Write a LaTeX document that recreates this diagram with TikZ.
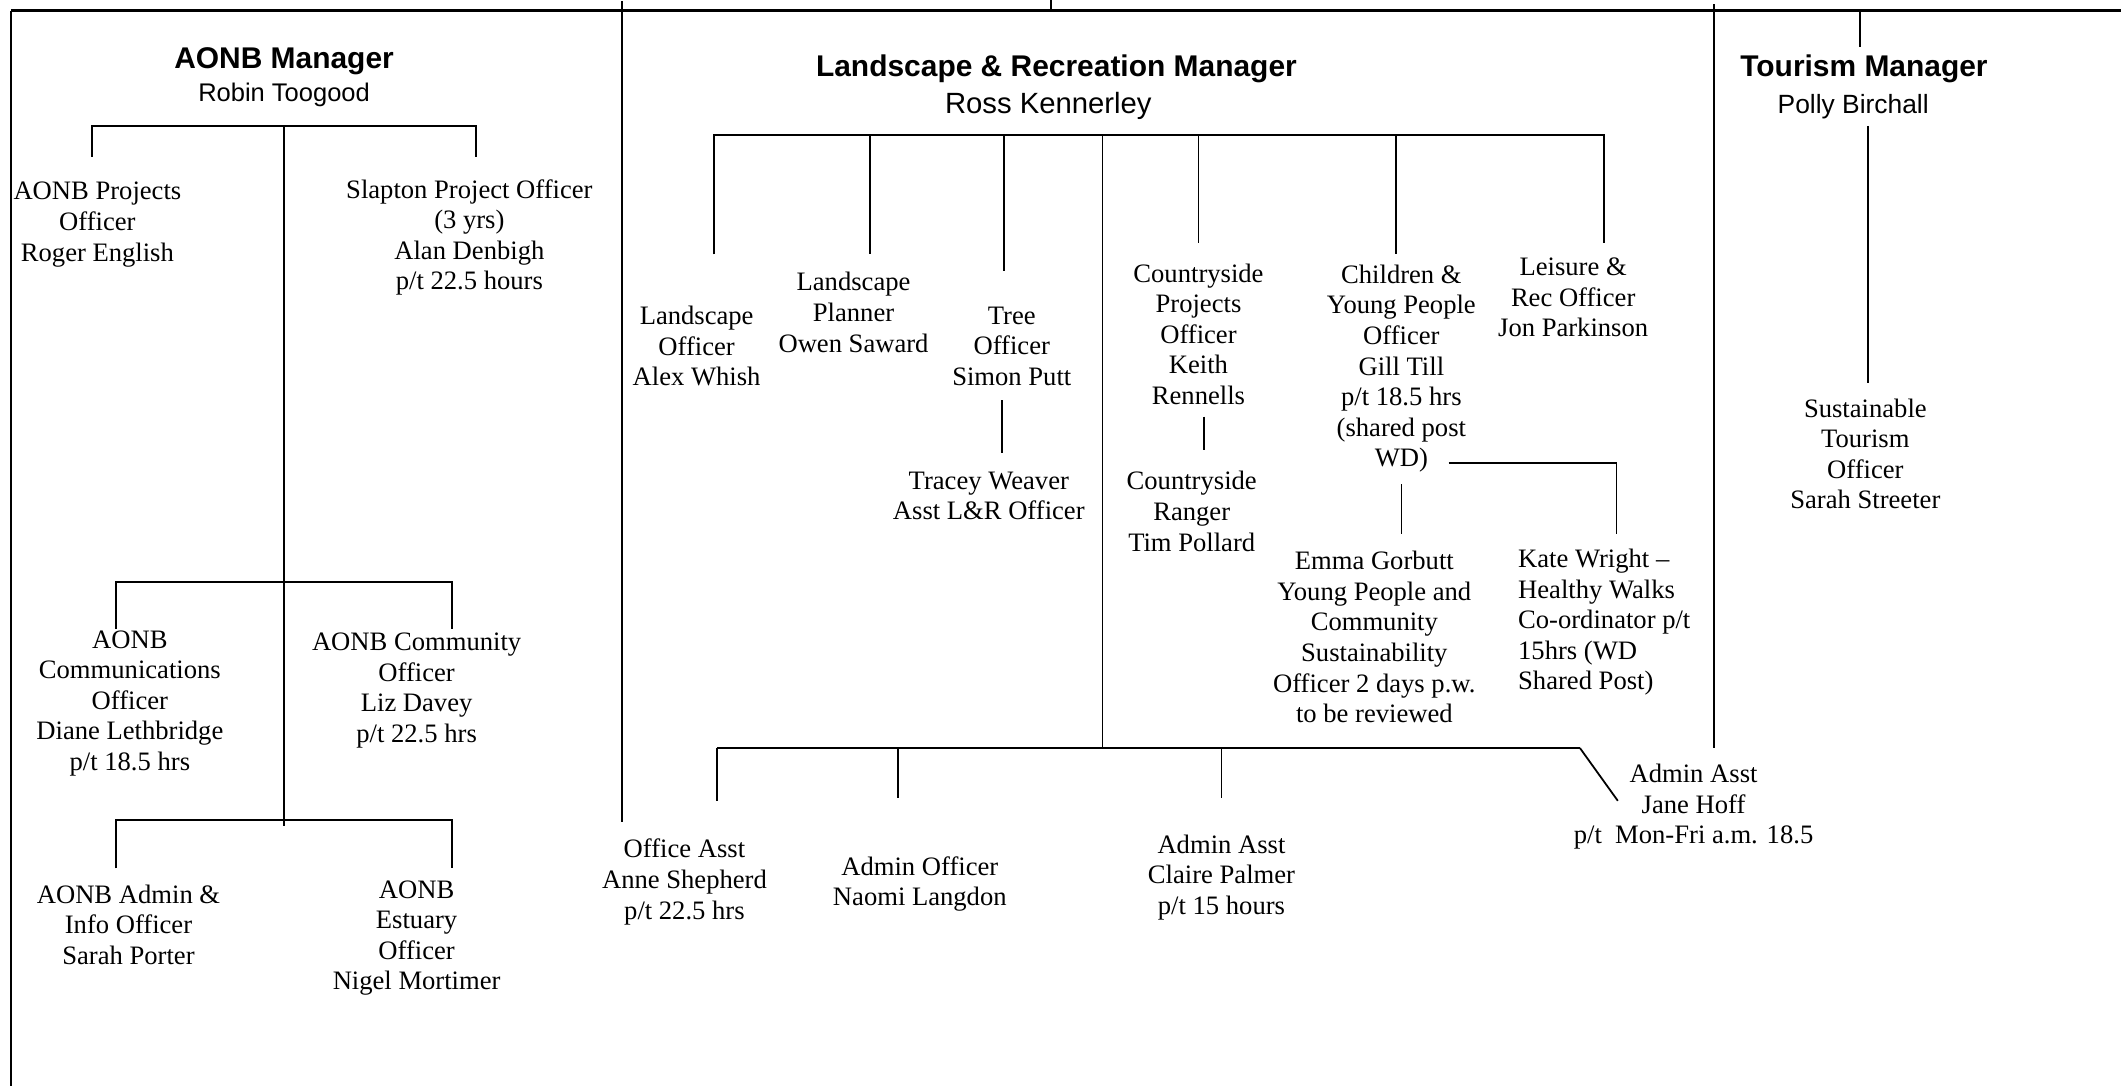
\documentclass[tikz,border=0pt]{standalone}
\usepackage{fontspec}
\setmainfont{Liberation Serif}
\newfontfamily\hsans{Liberation Sans}
\begin{document}
\begin{tikzpicture}[x=0.61pt,y=-0.61pt,
 txt/.style={align=center,inner sep=0pt,font=\fontsize{12}{13.8}\selectfont},
 head/.style={inner sep=0pt,font=\hsans\bfseries\fontsize{13.5}{15}\selectfont},
 nm/.style={inner sep=0pt,font=\hsans\fontsize{#1}{15}\selectfont},
 ln/.style={line width=0.8pt},
 bar/.style={line width=1.3pt}]
\useasboundingbox (0,0) rectangle (1568,803);

% ---------- frame ----------
\coordinate (tl) at (8,8);
\coordinate (tr) at (1568,8);
\coordinate (bl) at (8,803);
\coordinate (tt) at (777,0);
\coordinate (ttb) at (777,8);
\coordinate (v1t) at (460,1);
\coordinate (v1b) at (460,608);
\coordinate (v2t) at (1267,3);
\coordinate (v2b) at (1267,553);
\draw[bar] (tl) -- (tr);
\draw[ln] (tl) -- (bl);
\draw[ln] (tt) -- (ttb);
\draw[ln] (v1t) -- (v1b);
\draw[ln] (v2t) -- (v2b);

% ---------- AONB ----------
\node[head] (aonbmgr) at (210,45) {AONB Manager};
\node[nm=11.5] (aonbname) at (210,70) {Robin Toogood};
\node[txt] (proj) at (72,166) {AONB Projects\\Officer\\Roger English};
\node[txt] (slap) at (347,175.5) {Slapton Project Officer\\(3 yrs)\\Alan Denbigh\\p/t 22.5 hours};
\node[txt] (comms) at (96,520) {AONB\\Communications\\Officer\\Diane Lethbridge\\p/t 18.5 hrs};
\node[txt] (commun) at (308,510.5) {AONB Community\\Officer\\Liz Davey\\p/t 22.5 hrs};
\node[txt] (adminfo) at (95,683.5) {AONB Admin \&\\Info Officer\\Sarah Porter};
\node[txt] (estuary) at (308,693.5) {AONB\\Estuary\\Officer\\Nigel Mortimer};

\coordinate (a1l) at (68,93);  \coordinate (a1r) at (352,93);
\coordinate (a1lb) at (68,116); \coordinate (a1rb) at (352,116);
\coordinate (atr) at (210,93); \coordinate (atrb) at (210,611);
\coordinate (a2l) at (86,430); \coordinate (a2r) at (334,430);
\coordinate (a2lb) at (86,465); \coordinate (a2rb) at (334,465);
\coordinate (a3l) at (86,606); \coordinate (a3r) at (334,606);
\coordinate (a3lb) at (86,642); \coordinate (a3rb) at (334,642);
\draw[ln] (a1lb) -- (a1l) -- (a1r) -- (a1rb);
\draw[ln] (atr) -- (atrb);
\draw[ln] (a2lb) -- (a2l) -- (a2r) -- (a2rb);
\draw[ln] (a3lb) -- (a3l) -- (a3r) -- (a3rb);

% ---------- Landscape & Recreation ----------
\node[head] (lrmgr) at (781,51) {Landscape \& Recreation Manager};
\node[nm=13.2] (lrname) at (775,78) {Ross Kennerley};
\node[txt] (lsoff) at (515,256) {Landscape\\Officer\\Alex Whish};
\node[txt] (lsplan) at (631,231) {Landscape\\Planner\\Owen Saward};
\node[txt] (tree) at (748,256) {Tree\\Officer\\Simon Putt};
\node[txt] (tracey) at (731,366.5) {Tracey Weaver\\Asst L\&R Officer};
\node[txt] (cpo) at (886,247) {Countryside\\Projects\\Officer\\Keith\\Rennells};
\node[txt] (ranger) at (881,378) {Countryside\\Ranger\\Tim Pollard};
\node[txt] (cyp) at (1036,272.5) {Children \&\\Young People\\Officer\\Gill Till\\p/t 18.5 hrs\\(shared post\\WD)};
\node[txt] (leis) at (1163,220) {Leisure \&\\Rec Officer\\Jon Parkinson};
\node[txt] (emma) at (1016,471) {Emma Gorbutt\\Young People and\\Community\\Sustainability\\Officer 2 days p.w.\\to be reviewed};
\node[txt,align=left,anchor=west] (kate) at (1122,460) {Kate Wright --\\Healthy Walks\\Co-ordinator p/t\\15hrs (WD\\Shared Post)};
\node[txt] (office) at (506,652) {Office Asst\\Anne Shepherd\\p/t 22.5 hrs};
\node[txt] (adminoff) at (680,653.5) {Admin Officer\\Naomi Langdon};
\node[txt] (adminasst) at (903,648.5) {Admin Asst\\Claire Palmer\\p/t 15 hours};
\node[txt] (jane) at (1252,596.5) {Admin Asst\\Jane Hoff\\p/t~~Mon-Fri a.m. 18.5};

\coordinate (l1l) at (528,100); \coordinate (l1r) at (1186,100);
\coordinate (l1lb) at (528,188); \coordinate (l1rb) at (1186,180);
\coordinate (lpt) at (643,100); \coordinate (lpb) at (643,188);
\coordinate (trt) at (742,100); \coordinate (trb) at (742,200);
\coordinate (ltr) at (815,100); \coordinate (ltrb) at (815,553);
\coordinate (cpt) at (886,100); \coordinate (cpb) at (886,180);
\coordinate (cyt) at (1032,100); \coordinate (cyb) at (1032,188);
\coordinate (twt) at (741,296); \coordinate (twb) at (741,335);
\coordinate (crt) at (890,308); \coordinate (crb) at (890,333);
\coordinate (wd1) at (1071,342); \coordinate (wd2) at (1195,342); \coordinate (wd3) at (1195,395);
\coordinate (emt) at (1036,358); \coordinate (emb) at (1036,395);
\draw[ln] (l1lb) -- (l1l) -- (l1r) -- (l1rb);
\draw[ln] (lpt) -- (lpb);
\draw[ln] (trt) -- (trb);
\draw[ln] (ltr) -- (ltrb);
\draw[ln] (cpt) -- (cpb);
\draw[ln] (cyt) -- (cyb);
\draw[ln] (twt) -- (twb);
\draw[ln] (crt) -- (crb);
\draw[ln] (wd1) -- (wd2) -- (wd3);
\draw[ln] (emt) -- (emb);

\coordinate (b1l) at (530,553); \coordinate (b1r) at (1168,553);
\coordinate (b1d) at (1196,592);
\coordinate (b1lb) at (530,592);
\coordinate (b2t) at (664,553); \coordinate (b2b) at (664,590);
\coordinate (b3t) at (903,553); \coordinate (b3b) at (903,590);
\draw[bar] (b1l) -- (b1r);
\draw[ln] (b1r) -- (b1d);
\draw[ln] (b1l) -- (b1lb);
\draw[ln] (b2t) -- (b2b);
\draw[ln] (b3t) -- (b3b);

% ---------- Tourism ----------
\node[head] (tmgr) at (1378,51) {Tourism Manager};
\node[nm=11.9] (tname) at (1370,79) {Polly Birchall};
\node[txt] (sto) at (1379,335.5) {Sustainable\\Tourism\\Officer\\Sarah Streeter};
\coordinate (t1t) at (1375,8); \coordinate (t1b) at (1375,35);
\coordinate (t2t) at (1381,93); \coordinate (t2b) at (1381,283);
\draw[ln] (t1t) -- (t1b);
\draw[ln] (t2t) -- (t2b);
\end{tikzpicture}
\end{document}
